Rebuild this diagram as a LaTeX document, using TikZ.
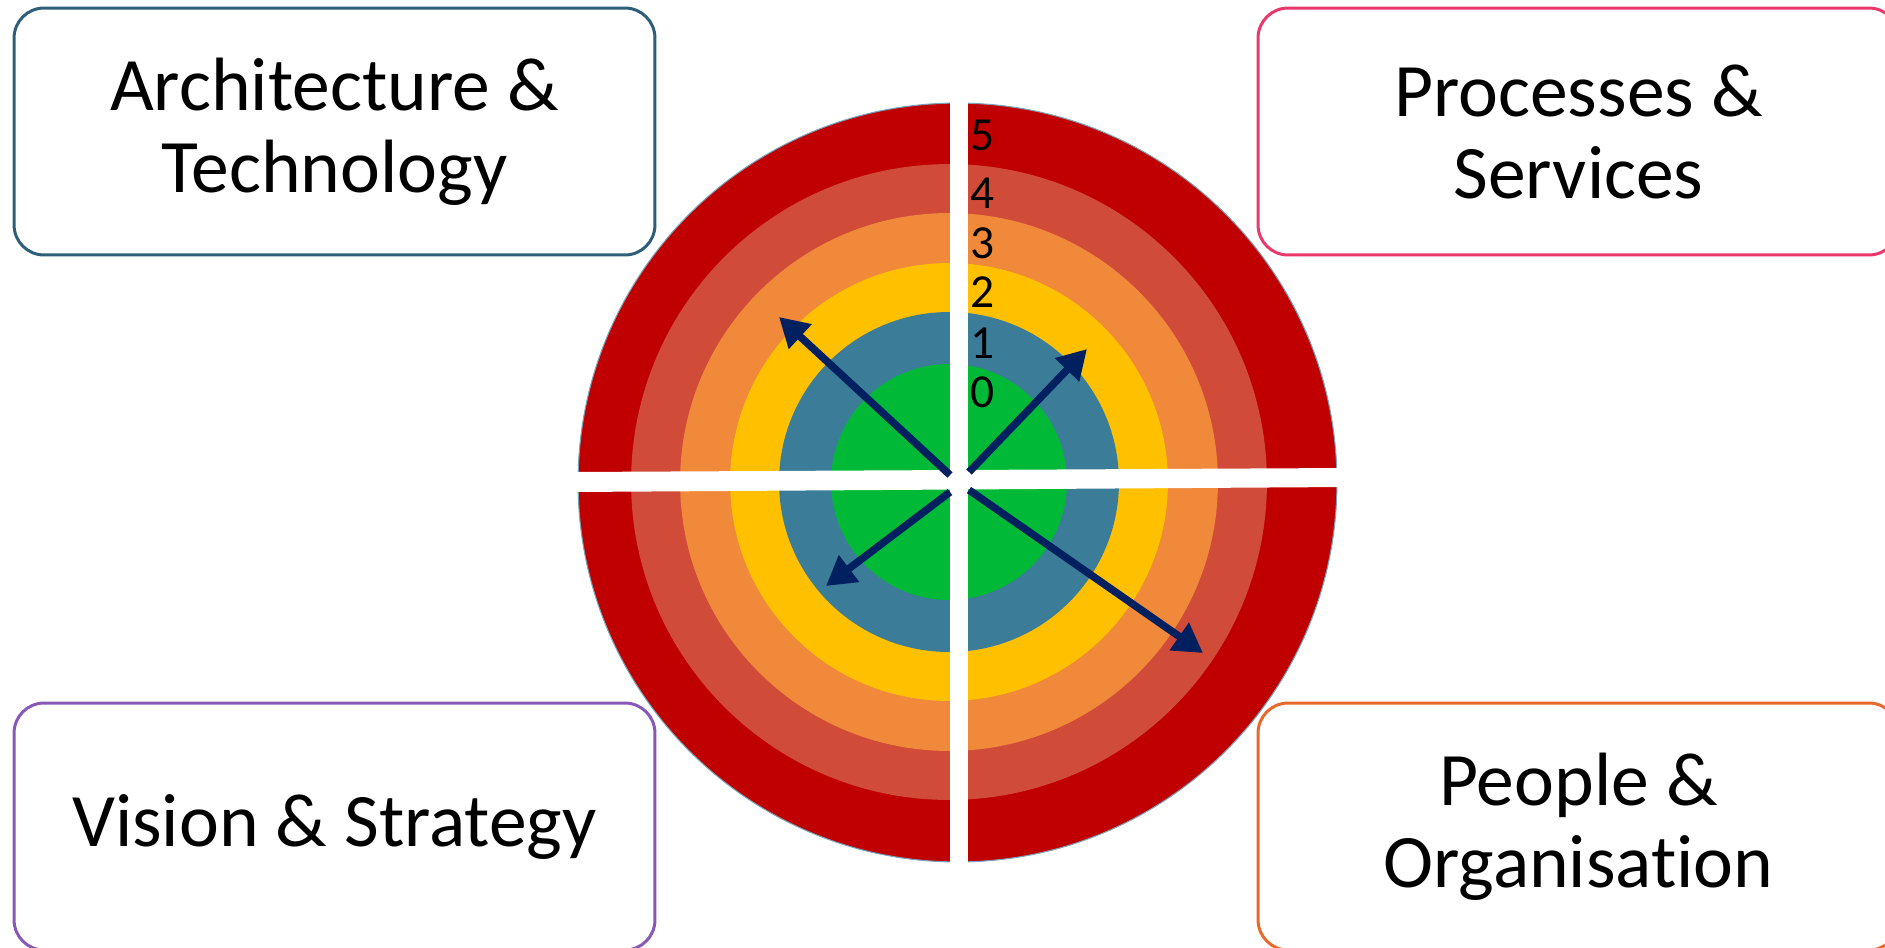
\documentclass[tikz,border=0pt]{standalone}
\usepackage{fontspec}
\setmainfont{Carlito}[Ligatures={NoCommon,NoContextual}]
\usetikzlibrary{arrows.meta}
\definecolor{ringfive}{HTML}{C00000}
\definecolor{ringfour}{HTML}{D04B38}
\definecolor{ringthree}{HTML}{F1893B}
\definecolor{ringtwo}{HTML}{FFC000}
\definecolor{ringone}{HTML}{3B7C99}
\definecolor{ringzero}{HTML}{00B936}
\definecolor{arrowblue}{HTML}{002060}
\definecolor{archline}{HTML}{2E5E78}
\definecolor{procline}{HTML}{E9386C}
\definecolor{visionline}{HTML}{8858B8}
\definecolor{peopleline}{HTML}{E8692C}
\tikzset{%
  >={Triangle[width=6.4mm,length=5.8mm]},
  % Specifications for style of nodes:
            base/.style = {rectangle, rounded corners=6mm, draw=black,
                           line width=1.7pt, fill=white,
                           minimum width=12.82cm, minimum height=4.94cm,
                           align=center, font=\fontsize{43}{46.7}\selectfont},
       archbox/.style = {base, draw=archline},
       procbox/.style = {base, draw=procline},
       visionbox/.style = {base, draw=visionline},
       peoplebox/.style = {base, draw=peopleline},
       digit/.style = {inner sep=0pt, font=\fontsize{27}{27}\selectfont},
       axis/.style = {->, draw=arrowblue, line width=0.15cm},
}

\begin{document}
\begin{tikzpicture}[x=0.02cm, y=-0.02cm]
  \useasboundingbox (0,0) rectangle (1885,947);
  % Target rings
  \coordinate (rim) at (957.5,482.5);
  \coordinate (c) at (949,482);
  \fill[ringfive, draw=ringone!70, line width=0.6pt] (rim) circle[radius=7.59cm];
  \foreach \r/\col in {6.36/ringfour, 5.38/ringthree, 4.38/ringtwo, 3.40/ringone, 2.36/ringzero}
    \fill[\col] (c) circle[radius=\r cm];
  % Gaps between the quarters
  \fill[white] (950,90) rectangle (968,875);
  \fill[white] (572,472) -- (1345,468) -- (1345,487) -- (572,492) -- cycle;

  % Levels
  \foreach \n/\y in {0/392, 1/343, 2/292, 3/243, 4/193, 5/135}
    \node (lvl\n)			[digit] at (983,\y) {\n};

  % Specification of nodes (position, etc.)
  \node (arch)				[archbox] at (334.5,131.5) {Architecture \&\\Technology};
  \node (proc)				[procbox] at (1578.5,131.5) {Processes \&\\Services};
  \node (vision)			[visionbox] at (334.5,826.5) {Vision \& Strategy};
  \node (people)			[peoplebox] at (1578.5,826.5) {People \&\\Organisation};

  \coordinate (nwfrom) at (950,475);
  \coordinate (nwto) at (779,317);
  \coordinate (nefrom) at (969,472);
  \coordinate (neto) at (1087,349);
  \coordinate (swfrom) at (950,492);
  \coordinate (swto) at (826,586);
  \coordinate (sefrom) at (969,490);
  \coordinate (seto) at (1203,653);

  \draw[axis]				(nwfrom) -- (nwto);
  \draw[axis]				(nefrom) -- (neto);
  \draw[axis]				(swfrom) -- (swto);
  \draw[axis]				(sefrom) -- (seto);
\end{tikzpicture}
\end{document}
